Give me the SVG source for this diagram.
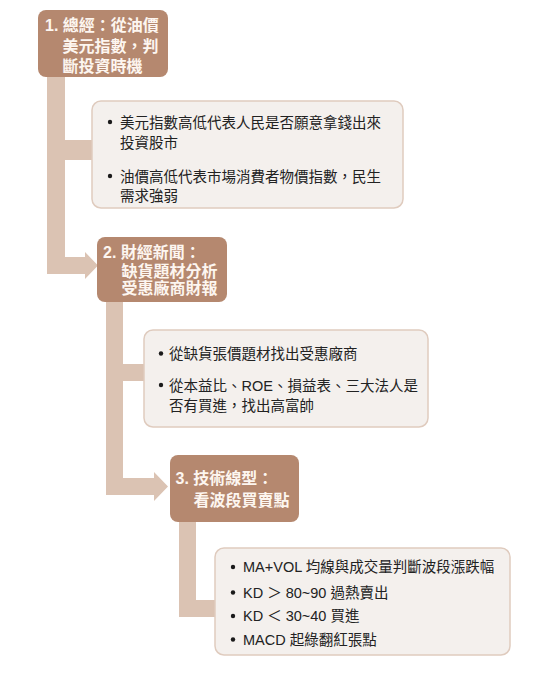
<svg xmlns="http://www.w3.org/2000/svg" width="551" height="673" viewBox="0 0 551 673">
  <style>
    .step { fill: #b5886f; }
    .step-text { fill: #fdf6f0; font-family: "Liberation Sans", "Noto Sans CJK TC", sans-serif; font-size: 16px; font-weight: bold; }
    .note { fill: #f4f0ed; stroke: #dfcbbe; stroke-width: 1.5; }
    .note-text { fill: #222; font-family: "Liberation Sans", "Noto Sans CJK TC", sans-serif; font-size: 14.5px; }
    .dot { fill: #1a1a1a; }
    .link { fill: #dbc3b3; }
  </style>

  <!-- connectors -->
  <g id="connectors">
    <polygon class="link" points="47,76 65,76 65,257 85,257 85,252 98,265.5 85,279 85,274 47,274"/>
    <rect class="link" x="64" y="140" width="30" height="20"/>
    <polygon class="link" points="106,301 123,301 123,478 154,478 154,472 168,486.5 154,501 154,495 106,495"/>
    <rect class="link" x="122" y="364" width="23" height="17"/>
    <polygon class="link" points="179,521 196,521 196,600 216,600 216,617 179,617"/>
  </g>

  <!-- step 1 -->
  <g id="step1">
    <rect class="step" x="38" y="10" width="130" height="67" rx="8"/>
    <text class="step-text" x="45" y="31">1. 總經：從油價</text>
    <text class="step-text" x="62.5" y="52">美元指數，判</text>
    <text class="step-text" x="62.5" y="72">斷投資時機</text>
  </g>

  <g id="note1">
    <rect class="note" x="92" y="101" width="311" height="107" rx="9"/>
    <circle class="dot" cx="110" cy="122" r="2.2"/>
    <text class="note-text" x="120" y="127.5">美元指數高低代表人民是否願意拿錢出來</text>
    <text class="note-text" x="120" y="148">投資股市</text>
    <circle class="dot" cx="110" cy="176" r="2.2"/>
    <text class="note-text" x="120" y="181.5">油價高低代表市場消費者物價指數，民生</text>
    <text class="note-text" x="120" y="201">需求強弱</text>
  </g>

  <!-- step 2 -->
  <g id="step2">
    <rect class="step" x="97" y="237" width="130" height="65" rx="8"/>
    <text class="step-text" x="103" y="257.5">2. 財經新聞：</text>
    <text class="step-text" x="121.5" y="276.5">缺貨題材分析</text>
    <text class="step-text" x="121.5" y="294">受惠廠商財報</text>
  </g>

  <g id="note2">
    <rect class="note" x="144" y="330" width="284" height="97" rx="9"/>
    <circle class="dot" cx="161" cy="353.5" r="2.2"/>
    <text class="note-text" x="169" y="359">從缺貨張價題材找出受惠廠商</text>
    <circle class="dot" cx="161" cy="385" r="2.2"/>
    <text class="note-text" x="169" y="390.5">從本益比、ROE、損益表、三大法人是</text>
    <text class="note-text" x="169" y="411">否有買進，找出高富帥</text>
  </g>

  <!-- step 3 -->
  <g id="step3">
    <rect class="step" x="170" y="455" width="129" height="67" rx="8"/>
    <text class="step-text" x="175.5" y="484">3. 技術線型：</text>
    <text class="step-text" x="193.5" y="505.5">看波段買賣點</text>
  </g>

  <g id="note3">
    <rect class="note" x="215" y="548" width="295" height="107" rx="9"/>
    <circle class="dot" cx="233" cy="567" r="2.2"/>
    <text class="note-text" x="243" y="572">MA+VOL 均線與成交量判斷波段漲跌幅</text>
    <circle class="dot" cx="233" cy="592.5" r="2.2"/>
    <text class="note-text" x="243" y="598">KD ＞ 80~90 過熱賣出</text>
    <circle class="dot" cx="233" cy="616" r="2.2"/>
    <text class="note-text" x="243" y="621">KD ＜ 30~40 買進</text>
    <circle class="dot" cx="233" cy="639.5" r="2.2"/>
    <text class="note-text" x="243" y="645">MACD 起綠翻紅張點</text>
  </g>
</svg>
